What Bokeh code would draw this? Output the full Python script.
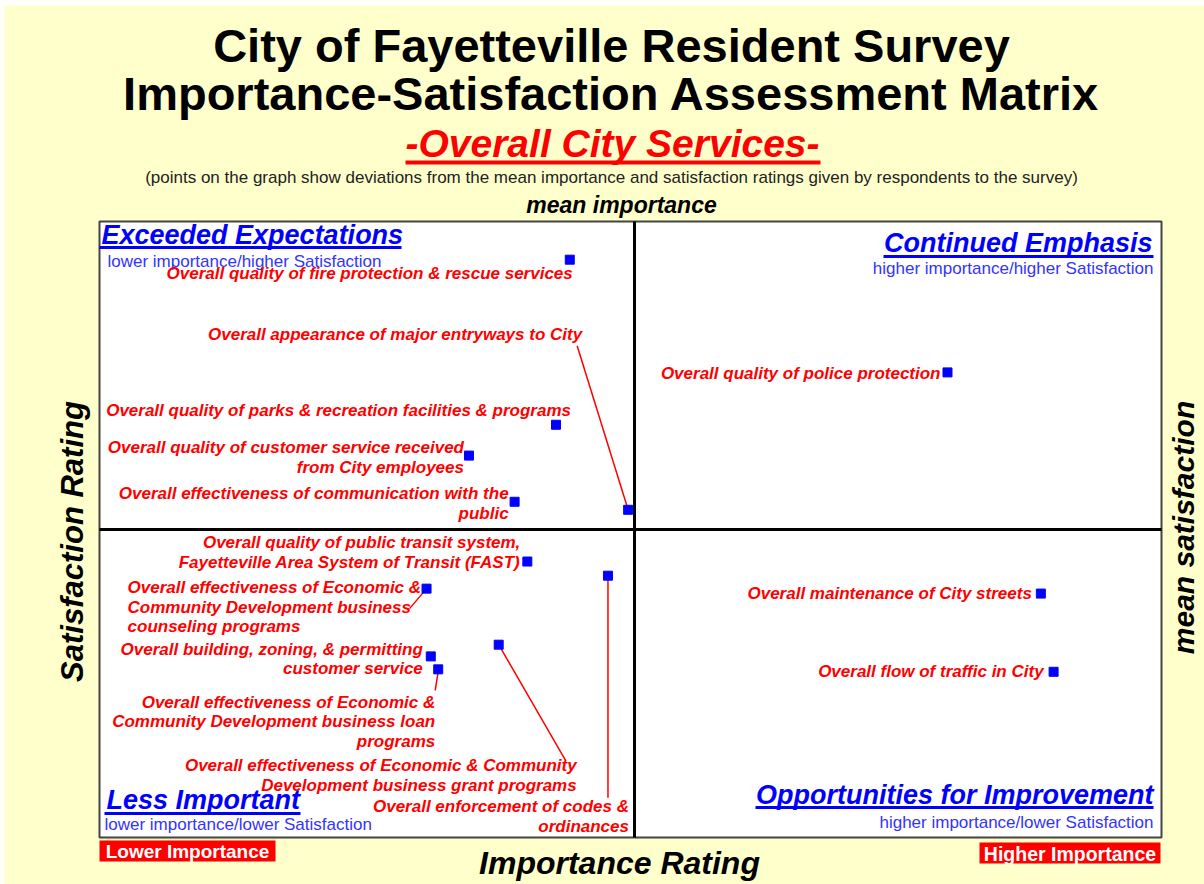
import math
from bokeh.plotting import figure
from bokeh.models import Range1d
from bokeh.core.properties import value
from bokeh.embed import file_html
from bokeh.resources import INLINE

# ---------------- data (deviations from mean importance / mean satisfaction) -------------
services = [
    "Overall quality of fire protection & rescue services",
    "Overall quality of police protection",
    "Overall quality of parks & recreation facilities & programs",
    "Overall quality of customer service received\nfrom City employees",
    "Overall effectiveness of communication with the\npublic",
    "Overall appearance of major entryways to City",
    "Overall quality of public transit system,\nFayetteville Area System of Transit (FAST)",
    "Overall enforcement of codes &\nordinances",
    "Overall effectiveness of Economic &\nCommunity Development business\ncounseling programs",
    "Overall maintenance of City streets",
    "Overall effectiveness of Economic & Community\nDevelopment business grant programs",
    "Overall building, zoning, & permitting\ncustomer service",
    "Overall effectiveness of Economic &\nCommunity Development business loan\nprograms",
    "Overall flow of traffic in City",
]
importance_dev = [-6.1, 29.5, -7.4, -15.6, -11.3, -0.6, -10.1, -2.5, -19.6, 38.3, -12.8, -19.2, -18.5, 39.5]
satisfaction_dev = [43.8, 25.5, 17.0, 12.0, 4.5, 3.2, -5.2, -7.5, -9.6, -10.4, -18.7, -20.6, -22.7, -23.1]

quadrant_titles = ["Exceeded Expectations", "Continued Emphasis", "Less Important", "Opportunities for Improvement"]
quadrant_subs = ["lower importance/higher Satisfaction", "higher importance/higher Satisfaction",
                 "lower importance/lower Satisfaction", "higher importance/lower Satisfaction"]

# ---------------- layout (page pixels) ----------------
FONT = "Liberation Sans"
BG = "#FFFFCC"
W, H = 1204, 884
PX0, PY0 = 634.0, 529.0      # page pixel of the means
SX, SY = 10.61, 6.16         # pixels per unit
LIM = 50                     # half-extent (vertical) of the matrix


def X(px):
    return (px - PX0) / SX


def Y(py):
    return (PY0 - py) / SY


p = figure(width=W, height=H, x_range=Range1d(X(0), X(W)), y_range=Range1d(Y(H), Y(0)),
           output_backend="svg", toolbar_location=None, min_border=0,
           x_axis_location=None, y_axis_location=None,
           background_fill_color=BG, border_fill_color=BG, outline_line_color=None)
p.grid.visible = False

# thin white page edge (top / left)
p.quad(left=[X(0), X(0)], right=[X(W), X(4)], bottom=[Y(5), Y(H)], top=[Y(0), Y(0)],
       fill_color="white", line_color=None)


def txt(pxs, pys, texts, size, color, style="bold italic", align="center", angle=0.0):
    p.text(x=[X(v) for v in pxs], y=[Y(v) for v in pys], text=texts,
           text_font=value(FONT), text_font_size=size, text_font_style=style,
           text_color=color, text_align=align, text_baseline="middle", angle=angle)


def hline(px0, px1, py, color, width):
    p.segment(x0=[X(px0)], y0=[Y(py)], x1=[X(px1)], y1=[Y(py)], line_color=color, line_width=width)


# matrix box
BOX_L, BOX_R = X(99), X(1161)
p.quad(left=[BOX_L], right=[BOX_R], bottom=[-LIM], top=[LIM], fill_color="white",
       line_color="#444444", line_width=2)
# mean lines
p.segment(x0=[0, BOX_L], y0=[-LIM, 0], x1=[0, BOX_R], y1=[LIM, 0], line_color="black", line_width=3)

# titles
txt([611], [45], ["City of Fayetteville Resident Survey"], "47px", "black", style="bold")
txt([611], [93], ["Importance-Satisfaction Assessment Matrix"], "47px", "black", style="bold")
txt([612], [143], ["-Overall City Services-"], "39px", "#FF0000")
hline(405, 820, 162, "#FF0000", 4)
txt([611], [177], ["(points on the graph show deviations from the mean importance and satisfaction ratings given by respondents to the survey)"],
    "17px", "#222222", style="normal")
txt([621], [204], ["mean importance"], "23px", "black")
txt([72], [541], ["Satisfaction Rating"], "31px", "black", angle=math.pi / 2)
txt([1183], [527], ["mean satisfaction"], "30px", "black", angle=math.pi / 2)
txt([619], [862], ["Importance Rating"], "32px", "black")

# red importance boxes
p.quad(left=[X(99), X(979)], right=[X(275), X(1160)], bottom=[Y(861), Y(863)], top=[Y(840), Y(842)],
       fill_color="#FF0000", line_color=None)
txt([187], [851], ["Lower Importance"], "19px", "white", style="bold")
txt([1069.5], [853], ["Higher Importance"], "19.5px", "white", style="bold")

# quadrant headers
q_x = [101, 1152, 106, 1153]
q_y = [234, 242, 799, 794]
q_align = ["left", "right", "left", "right"]
q_ul = [(99, 401, 247), (883, 1153, 256), (104, 300, 813), (755, 1153, 807)]
s_x = [107, 1153, 104, 1153]
s_y = [261, 268, 824, 822]
for i in range(4):
    txt([q_x[i]], [q_y[i]], [quadrant_titles[i]], "27px", "#0000FF", align=q_align[i])
    hline(q_ul[i][0], q_ul[i][1], q_ul[i][2], "#0000FF", 3)
    txt([s_x[i]], [s_y[i]], [quadrant_subs[i]], "17px", "#3333FF", style="normal", align=q_align[i])

# point labels: offset (px) of first-line anchor from the point, alignment
lab_dx = [3, -7, 15, -5, -6, -46, -7, 21, -299, -9, 78, -8, -3, -10]
lab_dy = [14, 1, -14, -8, -8, -175, -19, 231, -1, 0, 121, -7, 33, 0]
lab_align = ["right", "right", "right", "right", "right", "right", "right", "right", "left",
             "right", "right", "right", "right", "right"]
LH = 19.5
# leader lines: (index, start dx, start dy, end dx, end dy) in px relative to the point
leaders = [(5, -51, -164, 0, 0), (8, -17, 20, 0, 0), (12, -3, 21, 0, 2), (10, 67, 116, 0, 0), (7, 0, 222, 0, 0)]

for (i, sdx, sdy, edx, edy) in leaders:
    ppx = PX0 + importance_dev[i] * SX
    ppy = PY0 - satisfaction_dev[i] * SY
    p.segment(x0=[X(ppx + sdx)], y0=[Y(ppy + sdy)], x1=[X(ppx + edx)], y1=[Y(ppy + edy)],
              line_color="#FF0000", line_width=1.5)

for i, lab in enumerate(services):
    ppx = PX0 + importance_dev[i] * SX
    ppy = PY0 - satisfaction_dev[i] * SY
    lines = lab.split("\n")
    txt([ppx + lab_dx[i]] * len(lines), [ppy + lab_dy[i] + k * LH for k in range(len(lines))], lines,
        "17px", "#FF0000", align=lab_align[i])

p.scatter(x=importance_dev, y=satisfaction_dev, marker="square", size=9,
          fill_color="#0000FF", line_color="#0000FF")

open("out.html", "w").write(file_html(p, INLINE))
